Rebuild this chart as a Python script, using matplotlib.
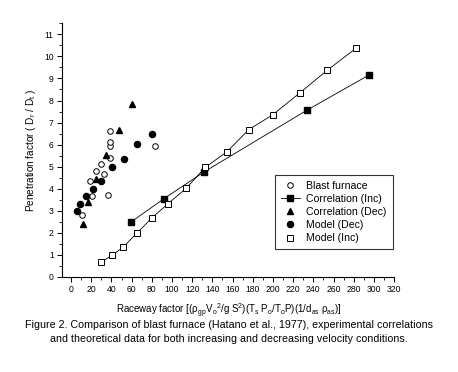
import matplotlib
matplotlib.use("Agg")
import matplotlib.pyplot as plt

plt.rcParams["font.family"] = ["Liberation Sans", "DejaVu Sans"]
plt.rcParams["mathtext.default"] = "regular"

# Blast furnace (Hatano et al., 1977)
bf_x = [11, 19, 20.5, 25, 30, 33, 37, 38.5, 39, 39, 39, 83]
bf_y = [2.82, 4.33, 3.65, 4.82, 5.1, 4.67, 3.72, 5.4, 5.95, 6.12, 6.62, 5.95]

# Correlation (Inc)
ci_x = [59, 92, 132, 234, 295]
ci_y = [2.48, 3.55, 4.77, 7.57, 9.15]

# Correlation (Dec)
cd_x = [12, 17, 25, 35, 47, 60]
cd_y = [2.42, 3.4, 4.45, 5.55, 6.68, 7.85]

# Model (Dec)
md_x = [6, 9, 15, 22, 30, 40.5, 52, 65, 80]
md_y = [3.0, 3.33, 3.66, 4.0, 4.35, 5.0, 5.35, 6.02, 6.5]

# Model (Inc)
mi_x = [30, 41, 51.5, 65.5, 80, 96, 114, 133, 154.5, 176, 200, 227, 253.5, 282]
mi_y = [0.68, 1.0, 1.35, 2.0, 2.68, 3.32, 4.02, 4.97, 5.68, 6.68, 7.36, 8.36, 9.36, 10.36]

x_ticks = list(range(0, 321, 20))
y_ticks = list(range(0, 12))

fig = plt.figure(figsize=(4.58, 3.72), dpi=100)
ax = fig.add_axes([0.1354, 0.2554, 0.725, 0.682])

ax.plot(bf_x, bf_y, linestyle="none", marker="o", markersize=4.0,
        markerfacecolor="white", markeredgecolor="black", markeredgewidth=0.7,
        label="Blast furnace")
ax.plot(ci_x, ci_y, color="black", linewidth=0.6, marker="s", markersize=4.0,
        markerfacecolor="black", markeredgecolor="black",
        label="Correlation (Inc)")
ax.plot(cd_x, cd_y, linestyle="none", marker="^", markersize=4.6,
        markerfacecolor="black", markeredgecolor="black",
        label="Correlation (Dec)")
ax.plot(md_x, md_y, linestyle="none", marker="o", markersize=4.4,
        markerfacecolor="black", markeredgecolor="black",
        label="Model (Dec)")
# line drawn separately so the legend shows only the open square
ax.plot(mi_x, mi_y, color="black", linewidth=0.6)
ax.plot(mi_x, mi_y, linestyle="none", marker="s", markersize=4.0,
        markerfacecolor="white", markeredgecolor="black", markeredgewidth=0.7,
        label="Model (Inc)")

ax.set_xlim(-9, 320)
ax.set_ylim(0, 11.5)
ax.set_xticks(x_ticks)
ax.set_yticks(y_ticks)
ax.set_xticks(range(0, 321, 10), minor=True)
ax.set_yticks([v + 0.5 for v in range(0, 12)], minor=True)

for side in ["top", "right"]:
    ax.spines[side].set_visible(False)
for side in ["left", "bottom"]:
    ax.spines[side].set_linewidth(0.8)

ax.tick_params(which="major", direction="out", length=3.5, width=0.7,
               labelsize=6.2, pad=2.5)
ax.tick_params(which="minor", direction="out", length=2, width=0.6)

ax.set_ylabel("Penetration factor ( D$_r$ / D$_t$ )", fontsize=7.2, labelpad=4)

leg = ax.legend(loc="lower left", bbox_to_anchor=(0.642, 0.11), fontsize=7.6,
                frameon=True, fancybox=False, edgecolor="black",
                handlelength=1.8, handletextpad=0.6, borderpad=0.55,
                labelspacing=0.3, borderaxespad=0)
leg.get_frame().set_linewidth(0.8)

fig.text(0.5, 0.163,
         r"Raceway factor [($\rho_{gp}$V$_o$$^2$/g S$^2$)(T$_s$ P$_o$/T$_o$P)(1/d$_{as}$ $\rho_{as}$)]",
         ha="center", va="center", fontsize=7.0)
fig.text(0.5, 0.125,
         "Figure 2. Comparison of blast furnace (Hatano et al., 1977), experimental correlations",
         ha="center", va="center", fontsize=7.7)
fig.text(0.5, 0.088,
         "and theoretical data for both increasing and decreasing velocity conditions.",
         ha="center", va="center", fontsize=7.7)

fig.savefig("out.png", dpi=100, facecolor="white")
